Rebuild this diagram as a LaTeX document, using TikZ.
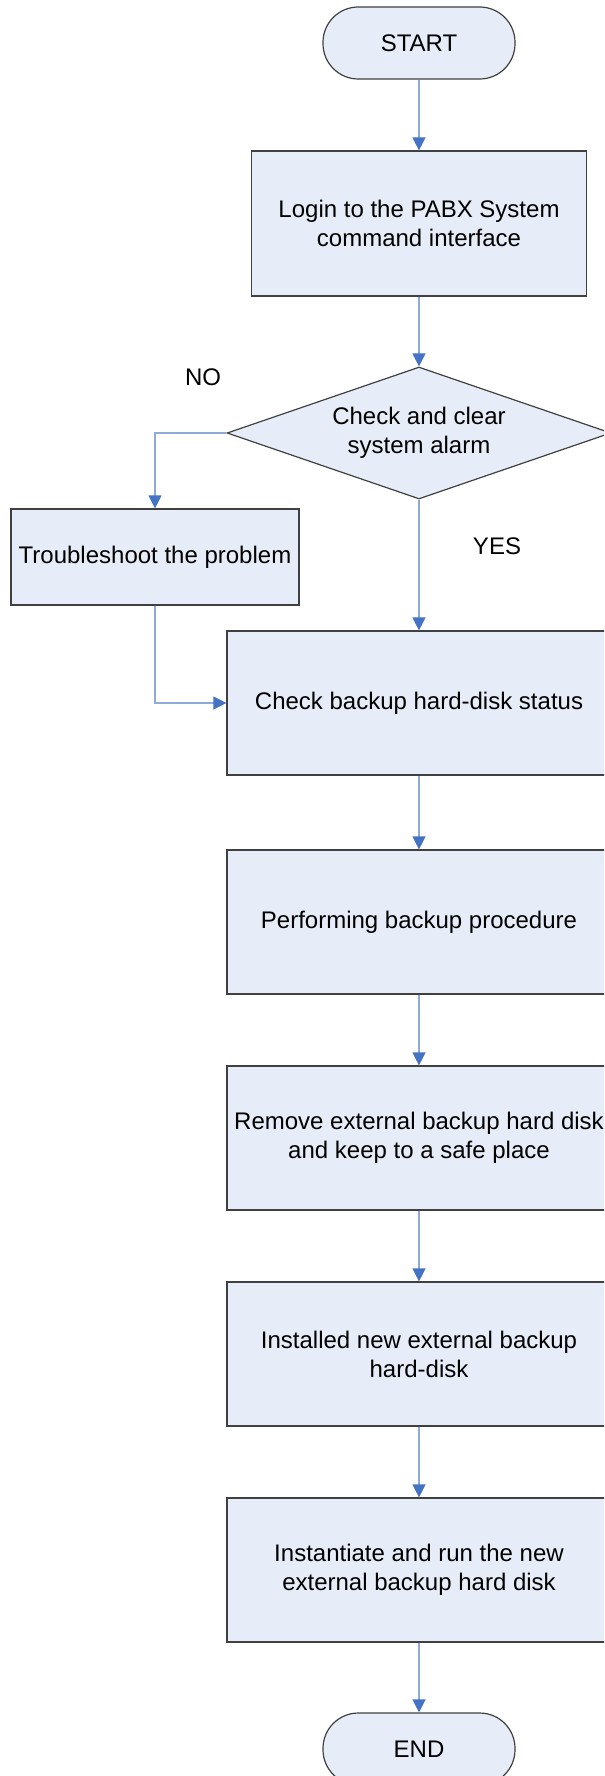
\documentclass[tikz,border=0pt]{standalone}
\usepackage{fontspec}
\setmainfont{Liberation Sans}
\usetikzlibrary{arrows.meta,shapes.geometric}
\definecolor{boxfill}{RGB}{230,237,248}
\definecolor{boxline}{RGB}{64,64,64}
\definecolor{conline}{RGB}{142,170,219}
\definecolor{arrowblue}{RGB}{68,114,196}
\tikzset{
  base/.style={draw=boxline, line width=0.9pt, fill=boxfill, inner sep=0pt, align=center,
    font=\fontsize{18pt}{21.75pt}\selectfont},
  procbox/.style={base, rectangle, minimum width=#1*0.75pt, minimum height=108pt},
  termbox/.style={base, rectangle, rounded corners=26.5pt, minimum width=144pt, minimum height=54pt},
  decbox/.style={base, diamond, aspect=2.9, minimum width=288pt, minimum height=99pt},
  lbl/.style={font=\fontsize{18pt}{21.75pt}\selectfont, inner sep=0pt},
  conn/.style={draw=conline, line width=1pt, -{Triangle[width=9.75pt,length=9.75pt,color=arrowblue]}}
}
\begin{document}
\begin{tikzpicture}[x=0.75pt,y=-0.75pt]
\useasboundingbox (0,0) rectangle (604,1776);
\clip (0,0) rectangle (604,1776);
\node[termbox] (start) at (419,43) {START};
\node[procbox=335, minimum height=108.75pt] (login) at (419,223.5) {Login to the PABX System\\command interface};
\node[decbox] (dia) at (419,433) {Check and clear\\system alarm};
\node[procbox=288, minimum height=72pt] (trouble) at (155,557) {Troubleshoot the problem};
\node[procbox=384] (check) at (419,703) {Check backup hard-disk status};
\node[procbox=384] (perform) at (419,922) {Performing backup procedure};
\node[procbox=384] (remove) at (419,1138) {Remove external backup hard disk\\and keep to a safe place};
\node[procbox=384] (install) at (419,1354) {Installed new external backup\\hard-disk};
\node[procbox=384] (inst) at (419,1570) {Instantiate and run the new\\external backup hard disk};
\node[termbox] (end) at (419,1749) {END};
\node[lbl] (no) at (203,377) {NO};
\node[lbl] (yes) at (497,546) {YES};
\draw[conn] (start) -- (login);
\draw[conn] (login) -- (dia);
\draw[conn] (dia) -- (check);
\draw[conn] (dia.west) -| (trouble.north);
\draw[conn] (trouble.south) |- (check.west);
\draw[conn] (check) -- (perform);
\draw[conn] (perform) -- (remove);
\draw[conn] (remove) -- (install);
\draw[conn] (install) -- (inst);
\draw[conn] (inst) -- (end);
\end{tikzpicture}
\end{document}
